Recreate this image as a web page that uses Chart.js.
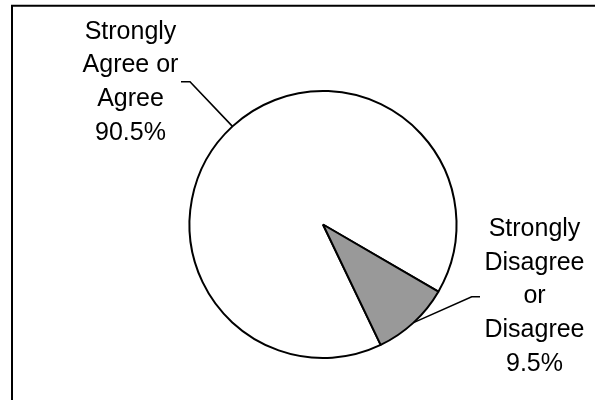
<!DOCTYPE html>
<html>
<head>
<meta charset="utf-8">
<script src="https://cdn.jsdelivr.net/npm/chart.js@4/dist/chart.umd.min.js"></script>
<style>
  html, body { margin: 0; padding: 0; background: #ffffff; }
  #wrap { position: relative; width: 595px; height: 400px; }
</style>
</head>
<body>
<div id="wrap"><canvas id="c" width="595" height="400"></canvas></div>
<script>
// ---- Data ----
const categories = ["Strongly Agree or Agree", "Strongly Disagree or Disagree"];
const labelLines = [["Strongly", "Agree or", "Agree"], ["Strongly", "Disagree", "or", "Disagree"]];
const values = [90.5, 9.5];
const sliceColors = ["#ffffff", "#999999"];

// ---- Label placement (layout) ----
const labelLayout = [
  { x: 130.5, y: 38.5, elbow: [190, 81.7], end: [181, 81.7] },
  { x: 534.5, y: 236, elbow: [471.7, 296.7], end: [480, 296.7] }
];
const lineGap = 33.7;

const framePlugin = {
  id: 'frame',
  beforeDraw(chart) {
    const ctx = chart.ctx;
    ctx.save();
    ctx.fillStyle = '#ffffff';
    ctx.fillRect(0, 0, chart.width, chart.height);
    ctx.strokeStyle = '#000000';
    ctx.lineWidth = 2;
    ctx.beginPath();
    ctx.moveTo(12, chart.height + 5);
    ctx.lineTo(12, 5.7);
    ctx.lineTo(chart.width + 5, 5.7);
    ctx.stroke();
    ctx.restore();
  }
};

const labelPlugin = {
  id: 'pieLabels',
  afterDraw(chart) {
    const ctx = chart.ctx;
    const meta = chart.getDatasetMeta(0);
    ctx.save();
    meta.data.forEach((arc, i) => {
      const p = arc.getProps(['x', 'y', 'startAngle', 'endAngle', 'outerRadius'], true);
      const mid = (p.startAngle + p.endAngle) / 2;
      const sx = p.x + Math.cos(mid) * p.outerRadius;
      const sy = p.y + Math.sin(mid) * p.outerRadius;
      const L = labelLayout[i];
      ctx.strokeStyle = '#000000';
      ctx.lineWidth = 1.6;
      ctx.beginPath();
      ctx.moveTo(sx, sy);
      ctx.lineTo(L.elbow[0], L.elbow[1]);
      ctx.lineTo(L.end[0], L.end[1]);
      ctx.stroke();

      ctx.fillStyle = '#000000';
      ctx.font = '25px "Liberation Sans", Arial, sans-serif';
      ctx.textAlign = 'center';
      ctx.textBaseline = 'alphabetic';
      const lines = labelLines[i].concat([values[i].toFixed(1) + '%']);
      lines.forEach((t, k) => ctx.fillText(t, L.x, L.y + k * lineGap));
    });
    ctx.restore();
  }
};

new Chart(document.getElementById('c'), {
  type: 'pie',
  data: {
    labels: categories,
    datasets: [{
      data: values,
      backgroundColor: sliceColors,
      borderColor: '#000000',
      borderWidth: 2,
      borderAlign: 'center'
    }]
  },
  options: {
    responsive: false,
    animation: false,
    rotation: 154.4,
    layout: { padding: { left: 188.5, right: 137.5, top: 90, bottom: 41 } },
    plugins: {
      legend: { display: false },
      tooltip: { enabled: false },
      title: { display: false }
    }
  },
  plugins: [framePlugin, labelPlugin]
});
</script>
</body>
</html>
